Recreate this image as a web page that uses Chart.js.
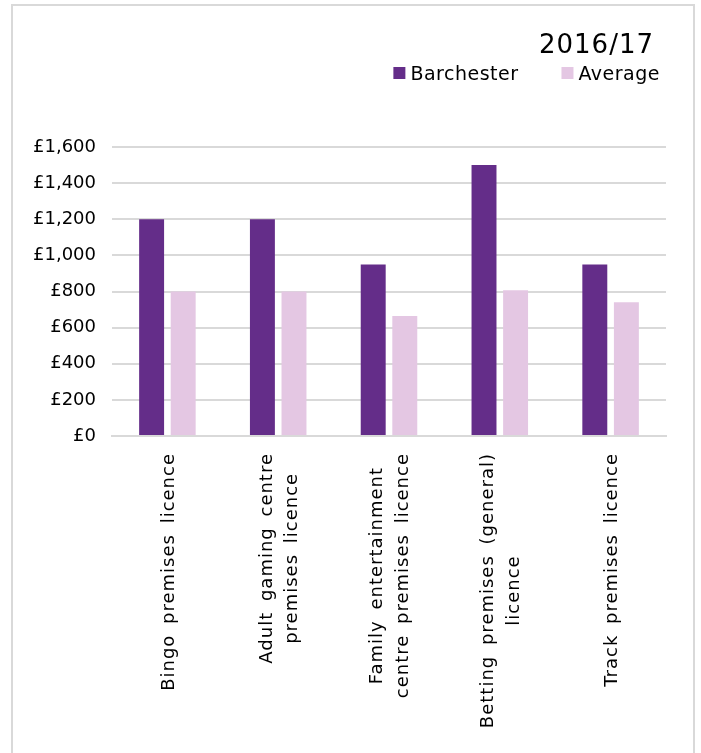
<!DOCTYPE html>
<html>
<head>
<meta charset="utf-8">
<title>Gambling premises licence fees 2016/17</title>
<script src="https://cdn.jsdelivr.net/npm/chart.js@4.4.1/dist/chart.umd.min.js"></script>
<style>
  html, body { margin: 0; padding: 0; background: #fff; }
  canvas { display: block; }
</style>
</head>
<body>
<canvas id="feesChart" width="701" height="753"></canvas>
<script>
// Chart data
const chartTitle = '2016/17';
const categories = [
  ['Bingo premises licence'],
  ['Adult gaming centre', 'premises licence'],
  ['Family entertainment', 'centre premises licence'],
  ['Betting premises (general)', 'licence'],
  ['Track premises licence'],
];
const seriesNames = ['Barchester', 'Average'];
const barchesterFees = [1200, 1200, 950, 1500, 950];
const averageFees = [800, 800, 665, 807, 740];
const yTickValues = [0, 200, 400, 600, 800, 1000, 1200, 1400, 1600];

// Colours
const seriesColors = ['#642d89', '#e4c7e3'];
const gridColor = '#d9d9d9';
const fontFamily = '"DejaVu Sans", Verdana, sans-serif';

Chart.defaults.font.family = fontFamily;

// Grey frame round the whole chart
const framePlugin = {
  id: 'frame',
  beforeDraw: (chart) => {
    const { ctx } = chart;
    ctx.save();
    ctx.fillStyle = '#ffffff';
    ctx.fillRect(0, 0, chart.width, chart.height);
    ctx.strokeStyle = gridColor;
    ctx.lineWidth = 2;
    ctx.strokeRect(12, 5, 682, 800);
    ctx.restore();
  },
};

// Title and legend, top right
const headerPlugin = {
  id: 'header',
  afterDraw: (chart) => {
    const { ctx } = chart;
    ctx.save();
    ctx.fillStyle = '#000';
    ctx.textBaseline = 'alphabetic';
    ctx.font = `26px ${fontFamily}`;
    ctx.letterSpacing = '1px';
    ctx.textAlign = 'right';
    ctx.fillText(chartTitle, 654, 53);

    ctx.font = `19px ${fontFamily}`;
    ctx.letterSpacing = '0.5px';
    ctx.textAlign = 'left';
    const items = chart.data.datasets.map((ds) => ({
      text: ds.label,
      color: ds.backgroundColor,
      width: 17 + ctx.measureText(ds.label).width,
    }));
    const gap = 43;
    let x = 660 - items.reduce((s, it) => s + it.width, 0) - gap * (items.length - 1);
    items.forEach((it) => {
      ctx.fillStyle = it.color;
      ctx.fillRect(x, 67, 12, 12);
      ctx.fillStyle = '#000';
      ctx.fillText(it.text, x + 17, 80);
      x += it.width + gap;
    });
    ctx.restore();
  },
};

// Category labels turned 90 degrees, lines centred on each other
const xLabelsPlugin = {
  id: 'xLabels',
  afterDraw: (chart) => {
    const { ctx } = chart;
    const xScale = chart.scales.x;
    const top = xScale.top + 17;
    const lineHeight = 25.5;
    ctx.save();
    ctx.font = `18px ${fontFamily}`;
    ctx.letterSpacing = '1px';
    ctx.wordSpacing = '4px';
    ctx.fillStyle = '#000';
    ctx.textAlign = 'center';
    ctx.textBaseline = 'middle';
    categories.forEach((lines, i) => {
      const x = xScale.getPixelForTick(i) + 1.5;
      const blockWidth = Math.max(...lines.map((l) => ctx.measureText(l).width));
      lines.forEach((line, j) => {
        ctx.save();
        ctx.translate(x + (j - (lines.length - 1) / 2) * lineHeight, top + blockWidth / 2);
        ctx.rotate(-Math.PI / 2);
        ctx.fillText(line, 0, 0);
        ctx.restore();
      });
    });
    ctx.restore();
  },
};

const ctx = document.getElementById('feesChart').getContext('2d');

new Chart(ctx, {
  type: 'bar',
  data: {
    labels: categories.map((l) => l.join(' ')),
    datasets: [
      {
        label: seriesNames[0],
        data: barchesterFees,
        backgroundColor: seriesColors[0],
        borderWidth: 0,
      },
      {
        label: seriesNames[1],
        data: averageFees,
        backgroundColor: seriesColors[1],
        borderWidth: 0,
      },
    ],
  },
  options: {
    responsive: false,
    animation: false,
    categoryPercentage: 0.57,
    barPercentage: 0.79,
    layout: { padding: { top: 147, left: 13, right: 35, bottom: 0 } },
    plugins: {
      legend: { display: false },
      title: { display: false },
      tooltip: { enabled: false },
    },
    scales: {
      x: {
        grid: { display: false },
        border: { display: true, color: gridColor, width: 2 },
        ticks: { display: false },
        afterFit: (scale) => {
          scale.height = 317;
        },
      },
      y: {
        min: 0,
        max: 1600,
        afterBuildTicks: (scale) => {
          scale.ticks = yTickValues.map((v) => ({ value: v }));
        },
        grid: { color: gridColor, lineWidth: 2, drawTicks: false },
        border: { display: false },
        ticks: {
          padding: 16,
          color: '#000',
          font: { size: 18 },
          callback: (v) => '£' + v.toLocaleString('en-GB'),
        },
        afterFit: (scale) => {
          scale.width = 99;
        },
      },
    },
  },
  plugins: [framePlugin, headerPlugin, xLabelsPlugin],
});
</script>
</body>
</html>
